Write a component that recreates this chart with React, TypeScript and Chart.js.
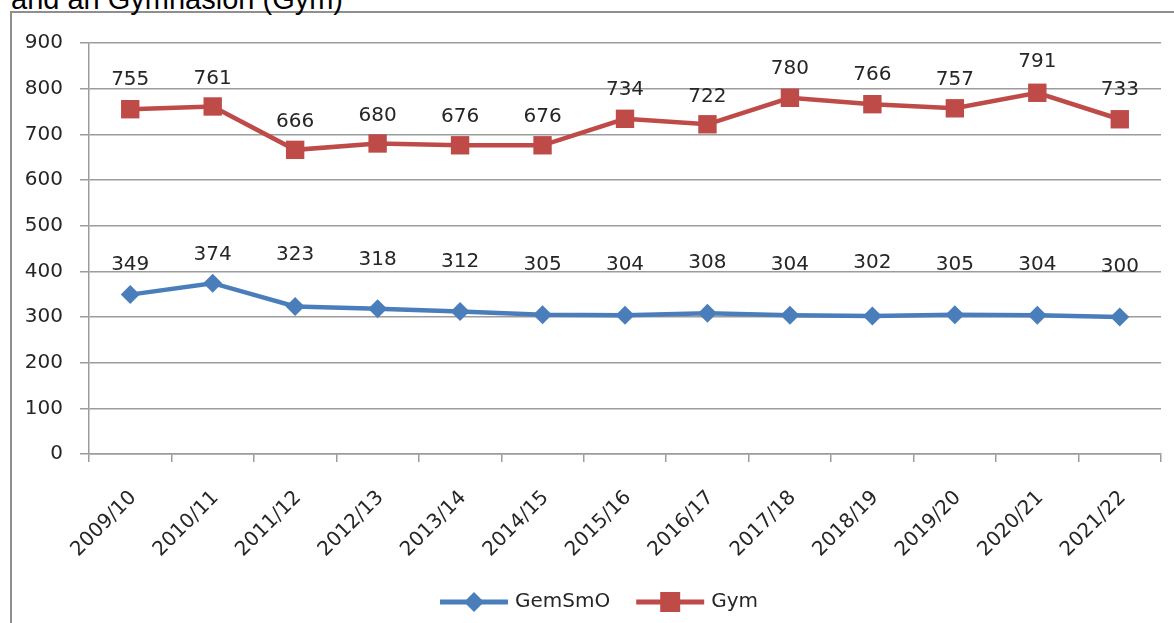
import React, { useEffect, useRef } from "react";
import { Chart, registerables } from "chart.js";

Chart.register(...registerables);

const categories = [
  "2009/10", "2010/11", "2011/12", "2012/13", "2013/14", "2014/15", "2015/16",
  "2016/17", "2017/18", "2018/19", "2019/20", "2020/21", "2021/22",
];
const gemSmO = [349, 374, 323, 318, 312, 305, 304, 308, 304, 302, 305, 304, 300];
const gym = [755, 761, 666, 680, 676, 676, 734, 722, 780, 766, 757, 791, 733];
const yMin = 0;
const yMax = 900;
const yStep = 100;
// pixel lift of each value label above its point
const gemLabelLift = [30, 28, 52, 49, 50, 50, 50, 51, 50, 53, 50, 50, 50];
const gymLabelLift = [29, 28, 28, 28, 28, 28, 29, 27, 29, 29, 29, 31, 29];
const seriesNames = ["GemSmO", "Gym"];

const BLUE = "#4A7EBB";
const RED = "#BE4B48";
const GRID = "#9c9c9c";
const TEXT = "#262626";
const FONT = "DejaVu Sans";

const valueLabels = {
  id: "valueLabels",
  afterDatasetsDraw(chart: any) {
    const ctx = chart.ctx;
    ctx.save();
    ctx.font = `20px "${FONT}"`;
    ctx.fillStyle = TEXT;
    ctx.textAlign = "center";
    ctx.textBaseline = "middle";
    chart.data.datasets.forEach((ds: any, di: number) => {
      const meta = chart.getDatasetMeta(di);
      const lifts = di === 0 ? gemLabelLift : gymLabelLift;
      meta.data.forEach((pt: any, i: number) => {
        ctx.fillText(String(ds.data[i]), pt.x, pt.y - lifts[i]);
      });
    });
    ctx.restore();
  },
};

const customLegend = {
  id: "customLegend",
  afterDraw(chart: any) {
    const ctx = chart.ctx;
    ctx.save();
    ctx.font = `20px "${FONT}"`;
    const y = 602;
    const lineLen = 68;
    const gapText = 7;
    const gapItem = 26;
    const items = chart.data.datasets.map((ds: any) => ({
      ds,
      w: lineLen + gapText + ctx.measureText(ds.label).width,
    }));
    const total = items.reduce((s: number, it: any) => s + it.w, 0) + gapItem * (items.length - 1);
    let x = 599 - total / 2;
    items.forEach((it: any) => {
      const ds = it.ds;
      ctx.strokeStyle = ds.borderColor;
      ctx.lineWidth = 5;
      ctx.beginPath();
      ctx.moveTo(x, y);
      ctx.lineTo(x + lineLen, y);
      ctx.stroke();
      ctx.fillStyle = ds.borderColor;
      const cx = x + lineLen / 2;
      ctx.beginPath();
      if (ds.pointStyle === "rectRot") {
        const r = 10;
        ctx.moveTo(cx - r, y);
        ctx.lineTo(cx, y - r);
        ctx.lineTo(cx + r, y);
        ctx.lineTo(cx, y + r);
        ctx.closePath();
      } else {
        ctx.rect(cx - 10, y - 10, 20, 20);
      }
      ctx.fill();
      ctx.fillStyle = TEXT;
      ctx.textAlign = "left";
      ctx.textBaseline = "middle";
      ctx.fillText(ds.label, x + lineLen + gapText, y);
      x += it.w + gapItem;
    });
    ctx.restore();
  },
};

export default function App() {
  const ref = useRef<HTMLCanvasElement>(null);
  useEffect(() => {
    if (!ref.current) return;
    const chart = new Chart(ref.current, {
      type: "line",
      data: {
        labels: categories,
        datasets: [
          {
            label: seriesNames[0],
            data: gemSmO,
            borderColor: BLUE,
            backgroundColor: BLUE,
            borderWidth: 4.5,
            pointStyle: "rectRot",
            pointRadius: 9.5,
            pointBorderWidth: 0,
            pointBackgroundColor: BLUE,
            tension: 0,
          },
          {
            label: seriesNames[1],
            data: gym,
            borderColor: RED,
            backgroundColor: RED,
            borderWidth: 4.5,
            pointStyle: "rect",
            pointRadius: 13,
            pointBorderWidth: 0,
            pointBackgroundColor: RED,
            tension: 0,
          },
        ],
      },
      options: {
        responsive: false,
        animation: false,
        layout: { padding: { top: 43, right: 12, left: 0, bottom: 0 } },
        plugins: {
          legend: { display: false },
          tooltip: { enabled: false },
          title: { display: false },
        },
        scales: {
          x: {
            offset: true,
            grid: {
              offset: true,
              drawOnChartArea: false,
              drawTicks: true,
              tickLength: 8,
              color: GRID,
              lineWidth: 1.5,
            },
            border: { display: true, color: GRID, width: 1.5 },
            ticks: {
              autoSkip: false,
              maxRotation: 45,
              minRotation: 45,
              padding: 24,
              labelOffset: 3,
              color: TEXT,
              font: { family: FONT, size: 20 },
            },
            afterFit(scale: any) {
              scale.height = 169;
            },
          },
          y: {
            min: yMin,
            max: yMax,
            ticks: {
              stepSize: yStep,
              padding: 17,
              color: TEXT,
              font: { family: FONT, size: 20 },
            },
            grid: { color: GRID, lineWidth: 1.5, tickLength: 9, drawTicks: true },
            border: { display: true, color: GRID, width: 1.5 },
            afterFit(scale: any) {
              scale.width = 89;
            },
          },
        },
      },
      plugins: [valueLabels, customLegend],
    });
    return () => chart.destroy();
  }, []);

  return (
    <div
      style={{
        position: "absolute",
        left: 0,
        top: 0,
        width: 1174,
        height: 623,
        overflow: "hidden",
        background: "#fff",
      }}
    >
      <div
        style={{
          position: "absolute",
          left: 10,
          top: 11,
          width: 1300,
          height: 800,
          borderLeft: "2px solid #8f8f8f",
          borderTop: "2px solid #8f8f8f",
        }}
      />
      <div
        style={{
          position: "absolute",
          left: 11,
          top: -15.5,
          fontFamily: '"Liberation Sans", Arial, sans-serif',
          fontSize: 29,
          lineHeight: "29px",
          color: "#000",
          whiteSpace: "nowrap",
        }}
      >
        and an Gymnasion (Gym)
      </div>
      <canvas
        ref={ref}
        width={1174}
        height={623}
        style={{ position: "absolute", left: 0, top: 0, display: "block" }}
      />
    </div>
  );
}
